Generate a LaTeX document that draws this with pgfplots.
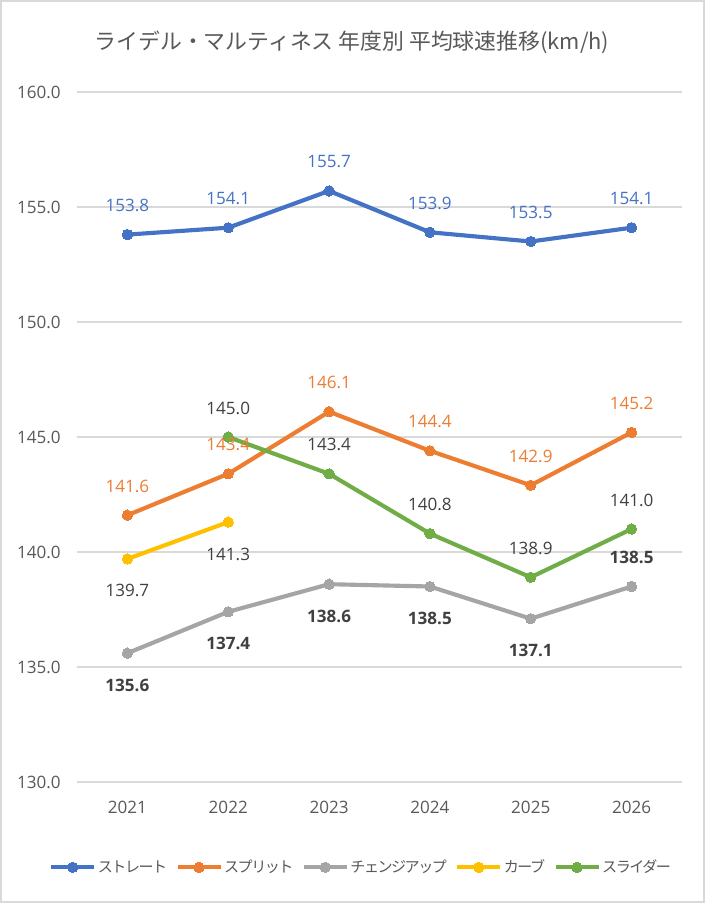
\documentclass[border=0pt]{standalone}
\usepackage{fontspec}
\setmainfont{Open Sans}
\newfontfamily\jp{Noto Sans CJK JP}
\newfontfamily\jpleg[LetterSpace=-10]{Noto Sans CJK JP}
\usepackage{pgfplots}
\pgfplotsset{compat=1.18}
\definecolor{cBlue}{HTML}{4472C4}
\definecolor{cOrange}{HTML}{ED7D31}
\definecolor{cGray}{HTML}{A5A5A5}
\definecolor{cYellow}{HTML}{FFC000}
\definecolor{cGreen}{HTML}{70AD47}
\definecolor{txt}{HTML}{595959}
\definecolor{lbl}{HTML}{404040}
\definecolor{gridc}{HTML}{D9D9D9}
\newcommand\numfont{\fontsize{12.8}{15}\selectfont}
\pgfplotsset{
  lab/.style={nodes near coords={\pgfmathprintnumber[fixed,fixed zerofill,precision=1,assume math mode=true]{\pgfplotspointmeta}},
    every node near coord/.append style={anchor=center,yshift=#1,font=\numfont}},
  labonly/.style={draw=none,mark=none,forget plot},
  ser/.style={color=#1,line width=3.1pt,line join=round,mark=*,mark size=3.9pt,mark options={solid,fill=#1,draw=#1,line width=0pt}},
}
\begin{document}
\begin{tikzpicture}
\path[use as bounding box] (0,0) rectangle (528.75pt,677.25pt);
\fill[white] (0,0) rectangle (528.75pt,677.25pt);
\draw[line width=1.5pt, gridc] (0.75pt,0.75pt) rectangle (528pt,676.5pt);
\node[font=\jp\fontsize{16.4}{19}\selectfont, text=txt] at (264pt,645.75pt) {ライデル・マルティネス 年度別 平均球速推移(km/h)};
\begin{axis}[
  at={(57.75pt,90.75pt)}, anchor=south west,
  scale only axis, width=453.75pt, height=517.5pt,
  xmin=2020.5, xmax=2026.5, ymin=130, ymax=160,
  ytick={130,135,140,145,150,155,160},
  xtick={2021,2022,2023,2024,2025,2026},
  xticklabels={2021,2022,2023,2024,2025,2026},
  axis line style={draw=none},
  major tick length=0pt,
  ymajorgrids, grid style={gridc, line width=0.9pt},
  y tick label style={/pgf/number format/.cd,fixed,fixed zerofill,precision=1,assume math mode=true,/tikz/.cd,font=\numfont,text=txt,xshift=-8.7pt},
  x tick label style={font=\numfont,text=txt,yshift=-11pt},
  clip=false,
  legend columns=5,
  legend cell align=left,
  legend style={draw=none, at={(0.5,0)}, anchor=center, yshift=-64pt, xshift=-14pt,
    font=\jpleg\fontsize{11.3}{13}\selectfont, text=txt,
    nodes={inner sep=1.2pt},
    /tikz/every even column/.append style={column sep=5pt}},
  legend image code/.code={\draw[#1,mark repeat=2,mark phase=2] plot coordinates {(0pt,0pt) (16.1pt,0pt) (32.25pt,0pt)};},
]
% ストレート
\addplot[ser=cBlue] coordinates {(2021,153.8) (2022,154.1) (2023,155.7) (2024,153.9) (2025,153.5) (2026,154.1)};
\addlegendentry{ストレート}
% スプリット
\addplot[ser=cOrange] coordinates {(2021,141.6) (2022,143.4) (2023,146.1) (2024,144.4) (2025,142.9) (2026,145.2)};
\addlegendentry{スプリット}
% チェンジアップ
\addplot[ser=cGray] coordinates {(2021,135.6) (2022,137.4) (2023,138.6) (2024,138.5) (2025,137.1) (2026,138.5)};
\addlegendentry{チェンジアップ}
% カーブ
\addplot[ser=cYellow] coordinates {(2021,139.7) (2022,141.3)};
\addlegendentry{カーブ}
% スライダー
\addplot[ser=cGreen] coordinates {(2022,145.0) (2023,143.4) (2024,140.8) (2025,138.9) (2026,141.0)};
\addlegendentry{スライダー}
% labels
\addplot[labonly, lab=21.75pt, every node near coord/.append style={text=cBlue}] coordinates {(2021,153.8) (2022,154.1) (2023,155.7) (2024,153.9) (2025,153.5) (2026,154.1)};
\addplot[labonly, lab=21.75pt, every node near coord/.append style={text=cOrange}] coordinates {(2021,141.6) (2022,143.4) (2023,146.1) (2024,144.4) (2025,142.9) (2026,145.2)};
\addplot[labonly, lab=-24pt, every node near coord/.append style={text=lbl,font=\numfont\bfseries}] coordinates {(2021,135.6) (2022,137.4) (2023,138.6) (2024,138.5) (2025,137.1)};
\addplot[labonly, lab=21.75pt, every node near coord/.append style={text=lbl,font=\numfont\bfseries}] coordinates {(2026,138.5)};
\addplot[labonly, lab=-24pt, every node near coord/.append style={text=lbl}] coordinates {(2021,139.7) (2022,141.3)};
\addplot[labonly, lab=21.75pt, every node near coord/.append style={text=lbl}] coordinates {(2022,145.0) (2023,143.4) (2024,140.8) (2025,138.9) (2026,141.0)};
\end{axis}
\end{tikzpicture}
\end{document}
